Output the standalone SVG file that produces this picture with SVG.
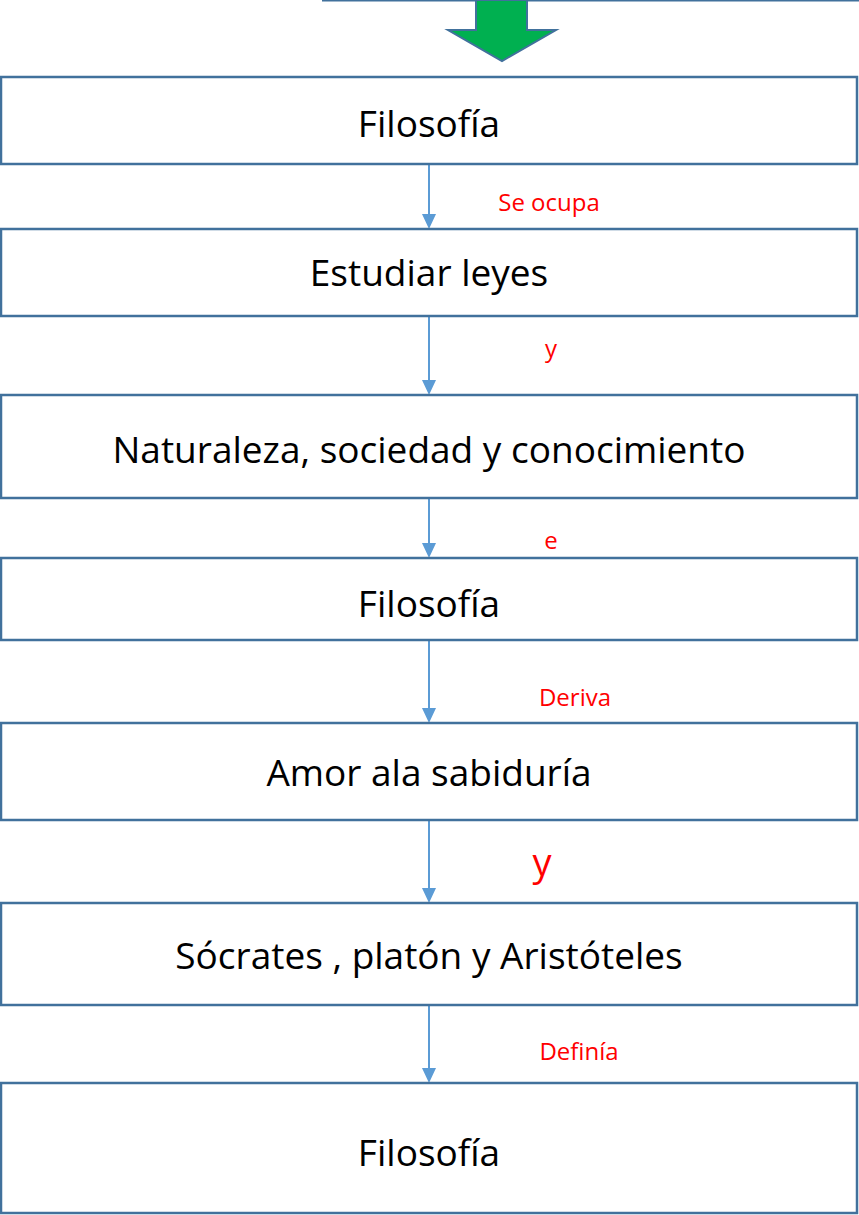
<svg xmlns="http://www.w3.org/2000/svg" width="859" height="1215" viewBox="0 0 859 1215">
<style>
.box{fill:#fff;stroke:#41719c;stroke-width:2.5}
.t{font-family:"Open Sans","Liberation Sans",sans-serif;font-size:37px;fill:#000;text-anchor:middle}
.l{font-family:"Open Sans","Liberation Sans",sans-serif;font-size:24px;fill:#ff0000;text-anchor:middle}
.c{stroke:#5b9bd5;stroke-width:2;fill:none}
.h{fill:#5b9bd5}
</style>
<g id="top-arrow">
<line x1="322" y1="0.5" x2="859" y2="0.5" stroke="#41719c" stroke-width="2"/>
<path d="M476,0 L527,0 L527,30 L556,30 L502,61 L448,30 L476,30 Z" fill="#00b050" stroke="#41719c" stroke-width="2"/>
</g>
<g id="connectors">
<line class="c" x1="429" y1="165" x2="429" y2="216"/><path class="h" d="M422,214 L436,214 L429,229 Z"/>
<line class="c" x1="429" y1="317" x2="429" y2="382"/><path class="h" d="M422,380 L436,380 L429,395 Z"/>
<line class="c" x1="429" y1="499" x2="429" y2="545"/><path class="h" d="M422,543 L436,543 L429,558 Z"/>
<line class="c" x1="429" y1="641" x2="429" y2="710"/><path class="h" d="M422,708 L436,708 L429,723 Z"/>
<line class="c" x1="429" y1="821" x2="429" y2="890"/><path class="h" d="M422,888 L436,888 L429,903 Z"/>
<line class="c" x1="429" y1="1006" x2="429" y2="1070"/><path class="h" d="M422,1068 L436,1068 L429,1083 Z"/>
</g>
<g id="labels">
<text class="l" x="549" y="211">Se ocupa</text>
<text class="l" x="551" y="357">y</text>
<text class="l" x="551" y="549">e</text>
<text class="l" x="575" y="706">Deriva</text>
<text class="l" x="542" y="876" style="font-size:38px">y</text>
<text class="l" x="579" y="1060">Definía</text>
</g>
<g id="n1"><rect class="box" x="1" y="77" width="856" height="87"/><text class="t" x="429" y="137">Filosofía</text></g>
<g id="n2"><rect class="box" x="1" y="229" width="856" height="87"/><text class="t" x="429" y="286">Estudiar leyes</text></g>
<g id="n3"><rect class="box" x="1" y="395" width="856" height="103"/><text class="t" x="429" y="463">Naturaleza, sociedad y conocimiento</text></g>
<g id="n4"><rect class="box" x="1" y="558" width="856" height="82"/><text class="t" x="429" y="617">Filosofía</text></g>
<g id="n5"><rect class="box" x="1" y="723" width="856" height="97"/><text class="t" x="429" y="786">Amor ala sabiduría</text></g>
<g id="n6"><rect class="box" x="1" y="903" width="856" height="102"/><text class="t" x="429" y="969">Sócrates , platón y Aristóteles</text></g>
<g id="n7"><rect class="box" x="1" y="1083" width="856" height="130"/><text class="t" x="429" y="1166">Filosofía</text></g>
</svg>
